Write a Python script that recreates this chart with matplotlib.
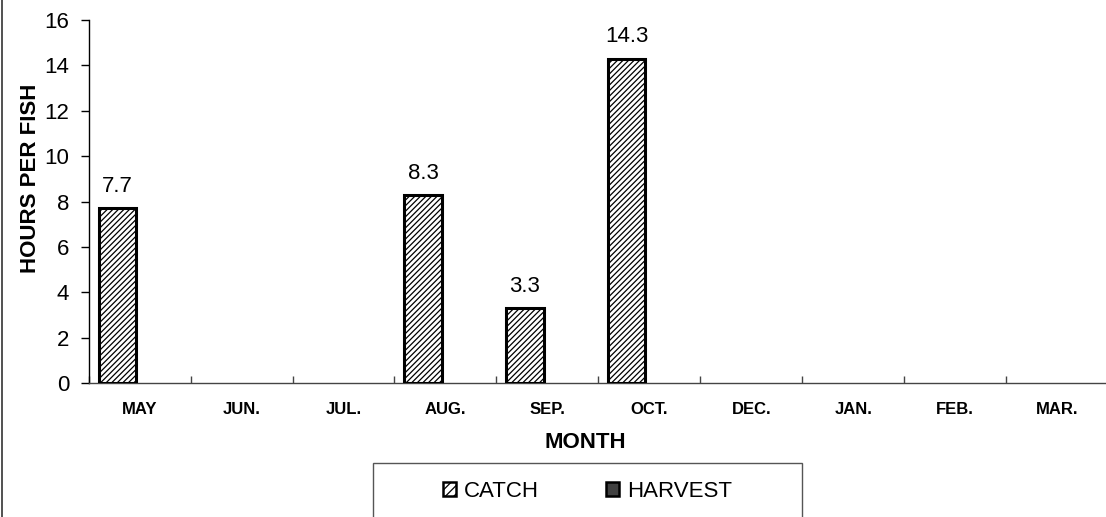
import matplotlib
matplotlib.use('Agg')
import matplotlib.pyplot as plt
from matplotlib.patches import Patch, Rectangle
from matplotlib.lines import Line2D
import numpy as np

months = ['MAY', 'JUN.', 'JUL.', 'AUG.', 'SEP.', 'OCT.', 'DEC.', 'JAN.', 'FEB.', 'MAR.']
catch = [7.7, 0, 0, 8.3, 3.3, 14.3, 0, 0, 0, 0]
harvest = [0, 0, 0, 0, 0, 0, 0, 0, 0, 0]
catch_labels = ['7.7', '', '', '8.3', '3.3', '14.3', '', '', '', '']

plt.rcParams['font.family'] = ['Liberation Sans', 'DejaVu Sans']
plt.rcParams['hatch.color'] = '#8a8a8a'
plt.rcParams['hatch.linewidth'] = 0.9

fig = plt.figure(figsize=(11.06, 5.17), dpi=100)
ax = fig.add_axes([0.0802, 0.2592, 0.9216, 0.7021])

x = np.arange(len(months))
# only the months with a value get a bar (empty months are blank in the original)
has = [v > 0 for v in catch]
ax.bar(x[has] - 0.22, np.array(catch)[has], width=0.365, facecolor='white',
       edgecolor='black', linewidth=2.2, hatch='//////', zorder=3)

for xi, v, lab in zip(x, catch, catch_labels):
    if lab:
        ax.annotate(lab, (xi - 0.22, v), xytext=(0, 8), textcoords='offset points',
                    ha='center', va='bottom', fontsize=16)

ax.set_xlim(-0.5, len(months) - 0.5)
ax.set_ylim(0, 16)
ax.set_yticks(range(0, 17, 2))
ax.set_xticks(x)
ax.set_xticklabels(months, fontsize=12, fontweight='bold')
ax.set_xticks(np.arange(len(months) + 1) - 0.5, minor=True)
ax.tick_params(axis='x', which='major', length=0, pad=14)
ax.tick_params(axis='x', which='minor', direction='in', length=5, width=1, color='#444444')
ax.tick_params(axis='y', direction='out', length=6, width=1, pad=8, labelsize=16)

for s in ['top', 'right']:
    ax.spines[s].set_visible(False)
for s in ['left', 'bottom']:
    ax.spines[s].set_linewidth(1)
    ax.spines[s].set_color('black')
ax.spines['bottom'].set_color('#444444')

ax.set_xlabel('MONTH', fontsize=16, fontweight='bold')
ax.xaxis.set_label_coords(0.487, -0.135)
ax.set_ylabel('HOURS PER FISH', fontsize=16, fontweight='bold')
ax.yaxis.set_label_coords(-0.047, 0.565)

handles = [Patch(facecolor='white', edgecolor='black', hatch='////', linewidth=1.8),
           Patch(facecolor='#404040', edgecolor='black', linewidth=1.8)]
fig.legend(handles, ['CATCH', 'HARVEST'], loc='center', bbox_to_anchor=(0.531, 0.05),
           ncol=2, frameon=False, fontsize=16, handlelength=0.6, handleheight=0.6,
           handletextpad=0.35, columnspacing=3.0)

fig.patches.append(Rectangle((0.3373, -0.02), 0.3879, 0.125, transform=fig.transFigure,
                             fill=False, edgecolor='#555555', linewidth=1))
fig.lines.append(Line2D([0.002, 0.002], [0, 1], transform=fig.transFigure,
                        color='#333333', linewidth=1.2))

fig.savefig('out.png', dpi=100)
